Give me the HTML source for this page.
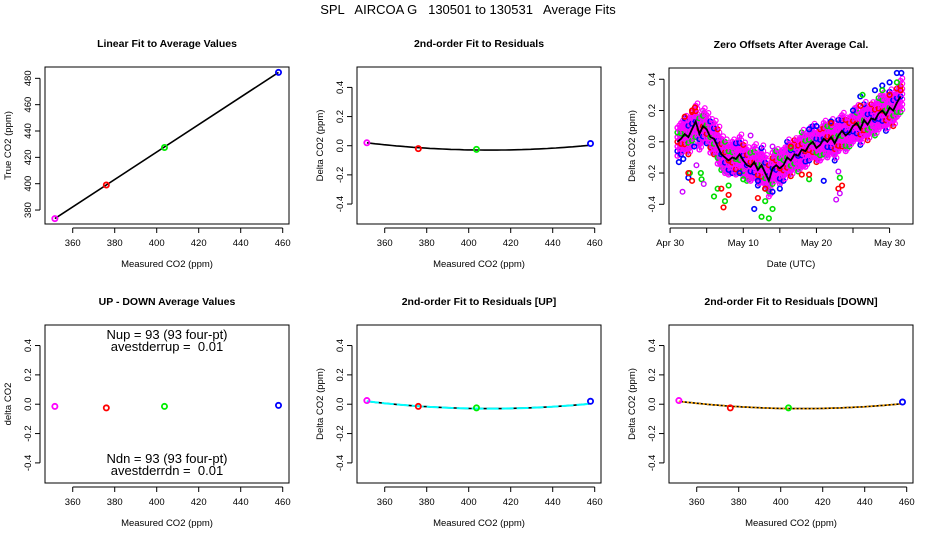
<!DOCTYPE html>
<html><head><meta charset="utf-8"><style>
html,body{margin:0;padding:0;background:#fff;}
svg{display:block;font-family:"Liberation Sans",Arial,sans-serif;}
</style></head><body>
<svg id="chart" width="936" height="540" viewBox="0 0 936 540" xmlns="http://www.w3.org/2000/svg">
<text x="468" y="14" font-size="13" text-anchor="middle" style="white-space:pre">SPL   AIRCOA G   130501 to 130531   Average Fits</text>
</svg>
<script>
// ---- data ----
const calMeasured = [351.5, 376, 403.7, 458];
const calTrue = [373.5, 399, 427.5, 484.5];
const calColors = ['#ff00ff', '#ff0000', '#00ee00', '#0000ff'];
const residAll = [0.02, -0.02, -0.025, 0.015];
const residUp = [0.025, -0.015, -0.025, 0.02];
const residDown = [0.025, -0.025, -0.025, 0.015];
const upDown = [-0.015, -0.025, -0.015, -0.008];
const fitCoef = [0.0000146, 410, -0.03]; // a*(x-b)^2 + c
const xTicks = [360, 380, 400, 420, 440, 460];
const trueTicks = [380, 400, 420, 440, 460, 480];
const residTicks = [-0.4, -0.2, 0.0, 0.2, 0.4];
const residTickLabels = ['-0.4', '-0.2', '0.0', '0.2', '0.4'];
const dateTicks = [0, 5, 10, 15, 20, 25, 30];
const dateLabels = ['Apr 30', '', 'May 10', '', 'May 20', '', 'May 30'];
const offDays = [1,1.5,2,2.5,3,3.5,4,4.5,5,5.5,6,6.5,7,7.5,8,8.5,9,9.5,10,10.5,11,11.5,12,12.5,13,13.5,14,14.5,15,15.5,16,16.5,17,17.5,18,18.5,19,19.5,20,20.5,21,21.5,22,22.5,23,23.5,24,24.5,25,25.5,26,26.5,27,27.5,28,28.5,29,29.5,30,30.5,31,31.5];
const offMean = [0,0.02,0.05,0.03,0.08,0.13,0.05,0.10,0.08,0.03,0.02,-0.03,-0.08,-0.1,-0.12,-0.1,-0.11,-0.08,-0.12,-0.15,-0.16,-0.13,-0.18,-0.15,-0.2,-0.25,-0.17,-0.15,-0.17,-0.15,-0.1,-0.12,-0.08,-0.09,-0.05,-0.06,-0.02,0,-0.04,-0.02,0.02,0,0.03,-0.01,0.04,0.07,0.04,0.06,0.1,0.12,0.08,0.14,0.11,0.15,0.14,0.18,0.2,0.17,0.22,0.2,0.25,0.29];
const offSpread = [0.09,0.1,0.1,0.11,0.11,0.1,0.1,0.1,0.09,0.1,0.1,0.11,0.1,0.1,0.09,0.1,0.1,0.11,0.1,0.1,0.09,0.1,0.1,0.11,0.1,0.1,0.1,0.09,0.1,0.1,0.1,0.1,0.09,0.1,0.11,0.1,0.1,0.1,0.09,0.1,0.1,0.1,0.1,0.11,0.1,0.1,0.1,0.09,0.1,0.1,0.1,0.1,0.1,0.09,0.1,0.1,0.1,0.1,0.1,0.1,0.09,0.1];
const outBlueD = [1.2,1.8,2.5,3.3,9.5,11.5,12,13,14,15,19,21,22,25,26,28,29,30,31,31.6,20];
const outBlueV = [-0.13,-0.11,-0.23,-0.03,-0.2,-0.43,-0.25,-0.3,-0.32,-0.3,0.08,-0.25,0.13,0.2,0.29,0.33,0.36,0.38,0.44,0.44,0.1];
const outGreenD = [6,6.5,7.5,8,10,12.5,13,13.5,14,16.5,19,23.2,26.3,29,31,2.7,4.2,4.3];
const outGreenV = [-0.35,-0.3,-0.38,-0.28,-0.24,-0.48,-0.38,-0.49,-0.43,-0.04,-0.24,-0.23,0.3,0.33,0.38,-0.2,-0.2,-0.24];
const outRedD = [2,3,3.4,3,7,7.3,8,12,13,16.5,18,19,22,23,23.5,26,30,31.5,2.5];
const outRedV = [0.16,0.2,0.22,-0.25,-0.3,-0.42,-0.34,-0.36,-0.3,-0.03,-0.21,-0.21,0.12,-0.3,-0.28,0.23,0.3,0.33,-0.2];
const outMagD = [1.7,4.6,3.6,14,22.7,23.2,23,11];
const outMagV = [-0.32,-0.27,-0.15,-0.03,-0.37,-0.33,-0.19,0.04];

// ---- helpers ----
const svg = document.getElementById('chart');
const NS = 'http://www.w3.org/2000/svg';
function el(tag, attrs, parent){
  const e = document.createElementNS(NS, tag);
  for (const k in attrs) e.setAttribute(k, attrs[k]);
  (parent||svg).appendChild(e);
  return e;
}
function scale(d0,d1,r0,r1){return v => r0 + (v-d0)*(r1-r0)/(d1-d0);}

function panel(name, box, title, xDom, yDom, xt, xl, yt, yl, xTitle, yTitle){
  const g = el('g', {});
  
  
  const sx = scale(xDom[0], xDom[1], box.x0, box.x1);
  const sy = scale(yDom[0], yDom[1], box.y1, box.y0);
  const t = el('text', {x:(box.x0+box.x1)/2, y:box.y0-20, 'font-size':10.5, 'font-weight':'bold', 'text-anchor':'middle'}, g);
  t.textContent = title;
  
  
  const r = el('rect', {x:box.x0, y:box.y0, width:box.x1-box.x0, height:box.y1-box.y0, fill:'none', stroke:'#000', 'stroke-width':1}, g);
  
  
  const xa = el('g', {}, g);
  
  
  el('line', {x1:sx(xt[0]), x2:sx(xt[xt.length-1]), y1:box.y1+4, y2:box.y1+4, stroke:'#000'}, xa);
  xt.forEach((v,i)=>{
    el('line', {x1:sx(v), x2:sx(v), y1:box.y1+4, y2:box.y1+9, stroke:'#000'}, xa);
    if (xl[i]) { const tl = el('text', {x:sx(v), y:box.y1+22, 'font-size':9.5, 'text-anchor':'middle'}, xa); tl.textContent = xl[i];
        }
  });
  const xT = el('text', {x:(box.x0+box.x1)/2, y:box.y1+43, 'font-size':9.5, 'text-anchor':'middle'}, xa);
  xT.textContent = xTitle;
  
  
  const ya = el('g', {}, g);
  
  
  const ax = box.x0-5;
  el('line', {x1:ax, x2:ax, y1:sy(yt[0]), y2:sy(yt[yt.length-1]), stroke:'#000'}, ya);
  yt.forEach((v,i)=>{
    el('line', {x1:ax-5, x2:ax, y1:sy(v), y2:sy(v), stroke:'#000'}, ya);
    const tl = el('text', {x:0, y:0, 'font-size':9.5, 'text-anchor':'middle', transform:`translate(${ax-9},${sy(v)}) rotate(-90)`}, ya);
    tl.textContent = yl[i];
    
    
  });
  const yT = el('text', {x:0, y:0, 'font-size':9.5, 'text-anchor':'middle', transform:`translate(${box.x0-34},${(box.y0+box.y1)/2}) rotate(-90)`}, ya);
  yT.textContent = yTitle;
  
  
  return {g, sx, sy, box};
}
function pt(p, x, y, color, r, w){
  const c = el('circle', {cx:p.sx(x), cy:p.sy(y), r:r||2.6, fill:'none', stroke:color, 'stroke-width':w||1.8}, p.g);
  
  
  return c;
}
function quadPath(p, lo, hi){
  let d = '';
  for (let x = lo; x <= hi + 0.01; x += 2) {
    const y = fitCoef[0]*(x-fitCoef[1])*(x-fitCoef[1]) + fitCoef[2];
    d += (d ? 'L' : 'M') + p.sx(x).toFixed(1) + ',' + p.sy(y).toFixed(1);
  }
  return d;
}
const xDom = [346.8, 463];
const resDom = [-0.537, 0.54];
const xtl = xTicks.map(String);
const rowTop = {y0:67, y1:224}, rowBot = {y0:325, y1:483};

// Panel 1
const p1 = panel('linear-fit-panel', {x0:45, x1:289, ...rowTop}, 'Linear Fit to Average Values', xDom, [369.4, 488.6], xTicks, xtl, trueTicks, trueTicks.map(String), 'Measured CO2 (ppm)', 'True CO2 (ppm)');
const l1 = el('line', {x1:p1.sx(calMeasured[0]), y1:p1.sy(calTrue[0]), x2:p1.sx(calMeasured[3]), y2:p1.sy(calTrue[3]), stroke:'#000', 'stroke-width':1.6}, p1.g);


calMeasured.forEach((x,i)=>pt(p1, x, calTrue[i], calColors[i]));

// Panel 2
const p2 = panel('residual-fit-panel', {x0:357, x1:601, ...rowTop}, '2nd-order Fit to Residuals', xDom, resDom, xTicks, xtl, residTicks, residTickLabels, 'Measured CO2 (ppm)', 'Delta CO2 (ppm)');
const c2 = el('path', {d:quadPath(p2, calMeasured[0], calMeasured[3]), fill:'none', stroke:'#000', 'stroke-width':1.6}, p2.g);


calMeasured.forEach((x,i)=>pt(p2, x, residAll[i], calColors[i]));

// Panel 3
const p3 = panel('zero-offsets-panel', {x0:669, x1:913, y0:68, y1:224}, 'Zero Offsets After Average Cal.', [-0.15, 33.2], [-0.526, 0.472], dateTicks, dateLabels, residTicks, residTickLabels, 'Date (UTC)', 'Delta CO2 (ppm)');
const bandPts = offDays.map((d,i)=>p3.sx(d).toFixed(1)+','+p3.sy(offMean[i]+1.1*offSpread[i]).toFixed(1))
  .concat(offDays.slice().reverse().map((d,j)=>{const i=offDays.length-1-j; return p3.sx(d).toFixed(1)+','+p3.sy(offMean[i]-1.1*offSpread[i]).toFixed(1);}));
const band = el('polygon', {points:bandPts.join(' '), fill:'#a03ce0', stroke:'none'}, p3.g);


const bandCols = ['#ff00ff','#0000ff','#ff00ff','#ff0000','#ff00ff','#00dd00','#ff00ff'];
const ks = [-1,-0.66,-0.33,0,0.33,0.66,1];
offDays.forEach((d,i)=>{
  ks.forEach((k,j)=>{
    pt(p3, d, offMean[i]+k*offSpread[i], bandCols[(i+j)%bandCols.length], 2.3, 1.5);
    pt(p3, d+0.25, offMean[i]+(k+0.16)*offSpread[i], '#ff00ff', 2.3, 1.2);
  });
});
outBlueD.forEach((d,i)=>pt(p3, d, outBlueV[i], '#0000ff', 2.3, 1.6));
outGreenD.forEach((d,i)=>pt(p3, d, outGreenV[i], '#00dd00', 2.3, 1.6));
outRedD.forEach((d,i)=>pt(p3, d, outRedV[i], '#ff0000', 2.3, 1.6));
outMagD.forEach((d,i)=>pt(p3, d, outMagV[i], '#cc00ff', 2.3, 1.4));
const ml = el('polyline', {points:offDays.map((d,i)=>p3.sx(d).toFixed(1)+','+p3.sy(offMean[i]).toFixed(1)).join(' '), fill:'none', stroke:'#000', 'stroke-width':1.8}, p3.g);



// Panel 4
const p4 = panel('up-down-panel', {x0:45, x1:289, ...rowBot}, 'UP - DOWN Average Values', xDom, resDom, xTicks, xtl, residTicks, residTickLabels, 'Measured CO2 (ppm)', 'delta CO2');
calMeasured.forEach((x,i)=>pt(p4, x, upDown[i], calColors[i]));
[['Nup = 93 (93 four-pt)', 339],['avestderrup =  0.01', 351],['Ndn = 93 (93 four-pt)', 463],['avestderrdn =  0.01', 475]].forEach(([s,y])=>{
  const t = el('text', {x:167, y:y, 'font-size':13, 'text-anchor':'middle', style:'white-space:pre'}, p4.g);
  t.textContent = s;
  
  
});

// Panel 5
const p5 = panel('residual-up-panel', {x0:357, x1:601, ...rowBot}, '2nd-order Fit to Residuals [UP]', xDom, resDom, xTicks, xtl, residTicks, residTickLabels, 'Measured CO2 (ppm)', 'Delta CO2 (ppm)');
const c5a = el('path', {d:quadPath(p5, calMeasured[0], calMeasured[3]), fill:'none', stroke:'#000', 'stroke-width':1.6}, p5.g);


const c5b = el('path', {d:quadPath(p5, calMeasured[0], calMeasured[3]), fill:'none', stroke:'#00ffff', 'stroke-width':2, 'stroke-dasharray':'12 3'}, p5.g);


calMeasured.forEach((x,i)=>pt(p5, x, residUp[i], calColors[i]));

// Panel 6
const p6 = panel('residual-down-panel', {x0:669, x1:913, ...rowBot}, '2nd-order Fit to Residuals [DOWN]', xDom, resDom, xTicks, xtl, residTicks, residTickLabels, 'Measured CO2 (ppm)', 'Delta CO2 (ppm)');
const c6a = el('path', {d:quadPath(p6, calMeasured[0], calMeasured[3]), fill:'none', stroke:'#000', 'stroke-width':1.6}, p6.g);


const c6b = el('path', {d:quadPath(p6, calMeasured[0], calMeasured[3]), fill:'none', stroke:'#ffa500', 'stroke-width':1.8, 'stroke-dasharray':'2 2'}, p6.g);


calMeasured.forEach((x,i)=>pt(p6, x, residDown[i], calColors[i]));
</script>
</body></html>
